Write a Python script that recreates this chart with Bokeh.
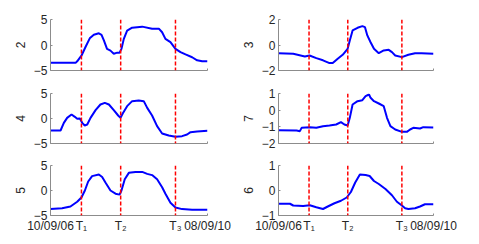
from bokeh.plotting import figure
from bokeh.layouts import gridplot
from bokeh.models import Range1d, FixedTicker, Span
from bokeh.embed import file_html
from bokeh.resources import INLINE

# event markers and x tick labels
T1, T2, T3 = 19.7, 44.7, 79.6
x_start, x_end = 0, 100
x_ticks = [x_start, T1, T2, T3, x_end]
x_tick_labels = ["10/09/06", "T\u2081", "T\u2082", "T\u2083", "08/09/10"]

# series "2"
x_s2 = [0, 16, 17, 19.7, 22.3, 25, 27.6, 30.8, 32.5, 34, 36, 38.2, 40.3, 42.5, 44, 45.2, 46.7, 48.8,
        52, 58.4, 64.7, 69, 71.1, 73.2, 76.4, 79.6, 82.8, 86, 90.2, 93.4, 96.6, 100]
y_s2 = [-3.5, -3.5, -3.2, -2.1, -0.4, 1.3, 2.0, 2.3, 2.0, 0.9, -0.75, -1.1, -1.7, -1.5, -1.5, -0.75, 1.2, 2.8,
        3.4, 3.6, 3.2, 3.2, 2.5, 1.2, 0.55, -0.75, -1.4, -1.85, -2.4, -3.0, -3.2, -3.2]

# series "3"
x_s3 = [0, 9.5, 17, 20, 24.4, 28.7, 32.9, 35, 38.2, 41.4, 44.6, 46, 47.8, 51, 54.1, 55.8, 57.3, 59.4,
        61.6, 64.7, 67.9, 71.1, 73.2, 75.3, 79.6, 83.8, 88.1, 92.3, 100]
y_s3 = [-0.64, -0.69, -0.9, -0.82, -1.03, -1.2, -1.42, -1.42, -1.08, -0.77, -0.3, 0.35, 1.14, 1.35, 1.48, 1.4,
        0.75, 0.22, -0.3, -0.64, -0.43, -0.38, -0.56, -0.82, -0.95, -0.77, -0.64, -0.64, -0.69]

# series "4"
x_s4 = [0, 6.4, 8.5, 10.6, 13.4, 15.5, 17, 18.7, 20.2, 21.8, 23.4, 25.5, 28.7, 31.8, 34.6, 37.2, 40.3, 43.1,
        44.6, 46, 48.8, 52, 56.2, 59.4, 61.6, 64.7, 67.9, 71.1, 75.3, 79.6, 83.8, 87, 89.2, 93.4, 100]
y_s4 = [-2.4, -2.4, -0.87, 0.13, 0.8, 0.33, -0.07, 0, -0.87, -1.4, -1.2, 0.13, 1.67, 2.8, 3.13, 2.8, 1.67, 0.6,
        0.13, 1.0, 2.47, 3.47, 3.6, 3.47, 2.13, 0.6, -1.53, -3.0, -3.4, -3.67, -3.53, -3.2, -2.73, -2.6, -2.47]

# series "7"
x_s7 = [0, 11.7, 13.8, 14.9, 20.2, 24.4, 28.7, 32.9, 37.2, 40.3, 42.5, 44.6, 46, 47.8, 51, 54.1, 56.2, 58.4,
        59.4, 61.6, 64.7, 67.9, 70, 72.2, 75.3, 79.6, 82.8, 84.9, 87, 91.3, 93.4, 100]
y_s7 = [-1.2, -1.22, -1.26, -1.06, -1.02, -1.06, -0.96, -0.92, -0.86, -0.72, -0.86, -0.92, -0.46, 0.34, 0.54,
        0.6, 0.84, 0.94, 0.74, 0.54, 0.4, 0.24, -0.46, -0.96, -1.16, -1.3, -1.3, -1.16, -1.06, -1.1, -1.02, -1.04]

# series "5"
x_s5 = [0, 7.4, 12.7, 17, 19.7, 21.9, 24, 26.5, 30.8, 32.9, 35, 38.2, 41.4, 44, 45.2, 47.3, 49.9, 54.1,
        58.4, 61.6, 64.7, 67.9, 71.1, 73.2, 76.4, 79.6, 83.8, 90.2, 100]
y_s5 = [-3.72, -3.53, -3.2, -2.24, -1.41, 0, 1.8, 2.88, 3.2, 2.7, 1.6, 0, -0.64, -0.83, 0, 2.24, 3.53, 3.72,
        3.72, 3.33, 3.08, 2.24, 0.64, -0.64, -2.44, -3.4, -3.72, -3.85, -3.85]

# series "6"
x_s6 = [0, 7.4, 9.5, 15.9, 20.2, 24.4, 28.7, 31.8, 36.1, 40.3, 44, 46.7, 49.5, 52.5, 56.2, 58.8, 61.6, 64.7,
        69, 73.2, 76.4, 79.6, 81.7, 83.8, 88.1, 91.3, 94.5, 100]
y_s6 = [-0.53, -0.53, -0.6, -0.62, -0.59, -0.67, -0.74, -0.64, -0.51, -0.41, -0.28, -0.06, 0.32, 0.64, 0.62,
        0.58, 0.38, 0.26, 0.06, -0.19, -0.45, -0.6, -0.71, -0.74, -0.71, -0.64, -0.55, -0.55]

FONT = "Liberation Sans"
TXT = "#262626"
AX = "#8c8c8c"


def panel(xs, ys, label, y0, y1, yticks, col, row, bottom_labels):
    fw, fh = 157, [51, 50, 52][row]
    bl = 50 if col == 0 else 36
    br = 33 if col == 0 else 32
    bt = [19, 11, 10][row]
    bb = [12, 12, 18][row]
    p = figure(width=bl + fw + br, height=bt + fh + bb,
               min_border_left=bl, min_border_right=br, min_border_top=bt, min_border_bottom=bb,
               x_range=Range1d(x_start, x_end), y_range=Range1d(y0, y1),
               output_backend="svg", toolbar_location=None, tools="")
    p.outline_line_color = None
    p.grid.visible = False
    p.background_fill_color = "white"
    p.border_fill_color = "white"
    for t in [T1, T2, T3]:
        p.add_layout(Span(location=t, dimension="height", line_color="#ff0000",
                          line_dash="4 2", line_width=1.5))
    p.line(xs, ys, line_color="#0000ff", line_width=2)
    for ax in (p.xaxis[0], p.yaxis[0]):
        ax.axis_line_color = AX
        ax.major_tick_line_color = AX
        ax.major_tick_in = 2
        ax.major_tick_out = 0
        ax.minor_tick_line_color = None
        ax.major_label_text_font = FONT
        ax.major_label_text_font_size = "12px"
        ax.major_label_text_color = TXT
        ax.major_label_standoff = 3
    p.yaxis.ticker = FixedTicker(ticks=yticks)
    p.yaxis.axis_label = label
    p.yaxis.axis_label_text_font = FONT
    p.yaxis.axis_label_text_font_size = "12px"
    p.yaxis.axis_label_text_font_style = "normal"
    p.yaxis.axis_label_text_color = TXT
    p.yaxis.axis_label_standoff = 6
    p.xaxis.ticker = FixedTicker(ticks=x_ticks)
    if bottom_labels:
        p.xaxis.major_label_overrides = {t: s for t, s in zip(x_ticks, x_tick_labels)}
    else:
        p.xaxis.major_label_overrides = {t: "" for t in x_ticks}
    return p


p1 = panel(x_s2, y_s2, "2", -5, 5, [-5, 0, 5], 0, 0, False)
p2 = panel(x_s3, y_s3, "3", -2, 2, [-2, 0, 2], 1, 0, False)
p3 = panel(x_s4, y_s4, "4", -5, 5, [-5, 0, 5], 0, 1, False)
p4 = panel(x_s7, y_s7, "7", -2, 1, [-2, -1, 0, 1], 1, 1, False)
p5 = panel(x_s5, y_s5, "5", -5, 5, [-5, 0, 5], 0, 2, True)
p6 = panel(x_s6, y_s6, "6", -1, 1, [-1, 0, 1], 1, 2, True)

grid = gridplot([[p1, p2], [p3, p4], [p5, p6]], toolbar_location=None)

open("out.html", "w").write(file_html(grid, INLINE))
